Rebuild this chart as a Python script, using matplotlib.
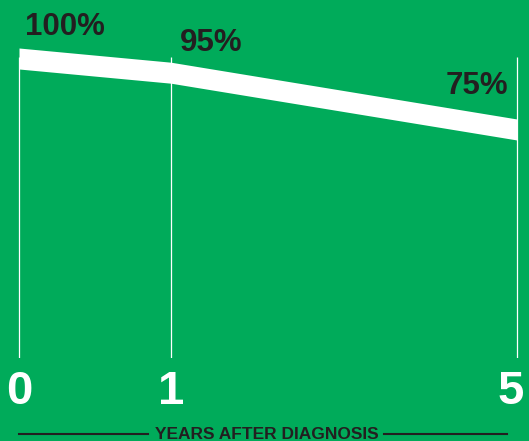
import numpy as np
import matplotlib
matplotlib.use('Agg')
import matplotlib.pyplot as plt
from matplotlib.lines import Line2D

# data
years = [0, 1, 5]
survival = [100, 95, 75]
labels = ['100%', '95%', '75%']
tick_labels = ['0', '1', '5']
axis_title = 'YEARS AFTER DIAGNOSIS'

green = '#00ab5a'
dark = '#231f20'
plt.rcParams['font.family'] = ['Liberation Sans', 'DejaVu Sans']

W, H = 529, 441
dpi = 100
fig = plt.figure(figsize=(W / dpi, H / dpi), dpi=dpi)
fig.patch.set_facecolor(green)

ax_bottom_px = 358
ax = fig.add_axes([0, (H - ax_bottom_px) / H, 1, ax_bottom_px / H])
ax.set_facecolor(green)

# x axis: power scale so 0, 1 and 5 sit where the original has them
a = 0.738
fwd = lambda x: np.sign(x) * np.abs(x) ** a
inv = lambda f: np.sign(f) * np.abs(f) ** (1 / a)
ax.set_xscale('function', functions=(fwd, inv))
f5 = fwd(5)
px_per = (517 - 19) / f5
ax.set_xlim(inv(-19 / px_per), inv(f5 + 12 / px_per))

# y axis: 2.84 px per percent, 100% at 58.5 px from top
ppp = 2.84
top = 100 + 58.5 / ppp
ax.set_ylim(top - ax_bottom_px / ppp, top)
ymin = ax.get_ylim()[0]

ax.vlines(years, ymin, 100.5, color='white', lw=0.9, zorder=1)

half = 10.5 / ppp
s = np.array(survival, dtype=float)
ax.fill_between(years, s - half, s + half, color='white', lw=0, zorder=2)

offsets = [(6, 31.5), (9, 30), (-9, 44)]
has = ['left', 'left', 'right']
for x, y, lab, off, ha in zip(years, survival, labels, offsets, has):
    ax.annotate(lab, (x, y), xytext=(off[0] * 0.72, off[1] * 0.72),
                textcoords='offset points', ha=ha, va='center',
                fontsize=22.5, fontweight='bold', color=dark)

tick_off = [0, 0, -6.5]
for x, lab, dx in zip(years, tick_labels, tick_off):
    ax.annotate(lab, (x, ymin), xytext=(dx * 0.72, -34 * 0.72),
                textcoords='offset points', ha='center', va='center',
                fontsize=34, fontweight='bold', color='white')

for sp in ax.spines.values():
    sp.set_visible(False)
ax.set_xticks([])
ax.set_yticks([])

fig.text(267 / W, 2 / H, axis_title, ha='center', va='baseline',
         fontsize=12.5, fontweight='bold', color=dark)
ly = (H - 434) / H
fig.add_artist(Line2D([19 / W, 148 / W], [ly, ly], color=dark, lw=1.5))
fig.add_artist(Line2D([384 / W, 507 / W], [ly, ly], color=dark, lw=1.5))

fig.savefig('out.png', dpi=dpi, facecolor=green)
